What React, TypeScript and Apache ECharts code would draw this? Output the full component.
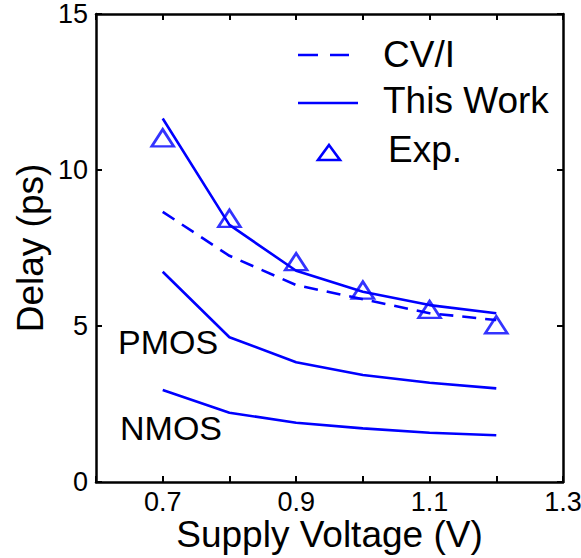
import React, { useEffect, useRef } from "react";
import * as echarts from "echarts";

const voltages = [0.7, 0.8, 0.9, 1.0, 1.1, 1.2];
const cvi = [8.66, 7.25, 6.31, 5.86, 5.41, 5.19];
const thisWork = [11.65, 8.24, 6.77, 6.1, 5.67, 5.41];
const expData = [11.03, 8.45, 7.06, 6.15, 5.53, 5.04];
const pmos = [6.74, 4.64, 3.84, 3.43, 3.18, 3.0];
const nmos = [2.95, 2.22, 1.9, 1.72, 1.58, 1.5];
const xLabels = ["0.7", "0.9", "1.1", "1.3"];

const BLUE = "#0000ff";
const FONT = "'Liberation Sans', Arial, Helvetica, sans-serif";

const pairs = (ys: number[]) => voltages.map((v, i) => [v, ys[i]]);

export default function App() {
  const ref = useRef<HTMLDivElement>(null);
  useEffect(() => {
    document.body.style.margin = "0";
    if (!ref.current) return;
    const chart = echarts.init(ref.current, undefined, { renderer: "svg" });
    const solid = (name: string, ys: number[]) => ({
      name,
      type: "line",
      data: pairs(ys),
      symbol: "none",
      lineStyle: { color: BLUE, width: 2.6 },
      z: 3,
    });
    const axisCommon = {
      axisLine: { show: true, onZero: false, lineStyle: { color: "#000", width: 2.5 } },
      axisTick: { show: true, inside: true, length: 6, lineStyle: { color: "#000", width: 2 } },
      splitLine: { show: false },
    };
    chart.setOption({
      animation: false,
      backgroundColor: "#fff",
      grid: { left: 96, right: 18, top: 14, bottom: 76, containLabel: false, outerBoundsMode: "none" },
      xAxis: [
        {
          type: "value",
          min: 0.6,
          max: 1.3,
          interval: 0.1,
          position: "bottom",
          ...axisCommon,
          axisLabel: {
            color: "#000",
            fontSize: 27,
            lineHeight: 22,
            fontFamily: FONT,
            margin: 9,
            showMinLabel: true,
            showMaxLabel: true,
            formatter: (v: number) => {
              const s = (Math.round(v * 10) / 10).toFixed(1);
              return xLabels.includes(s) ? s : "";
            },
          },
          name: "Supply Voltage (V)",
          nameLocation: "middle",
          nameMoveOverlap: false,
          nameGap: 35,
          nameTextStyle: { color: "#000", fontSize: 37, lineHeight: 34, fontFamily: FONT },
        },
        {
          type: "value",
          min: 0.6,
          max: 1.3,
          interval: 0.1,
          position: "top",
          ...axisCommon,
          axisLabel: { show: false },
        },
      ],
      yAxis: [
        {
          type: "value",
          min: 0,
          max: 15,
          interval: 5,
          position: "left",
          ...axisCommon,
          axisLabel: { color: "#000", fontSize: 27, fontFamily: FONT, margin: 8 },
          name: "Delay (ps)",
          nameLocation: "middle",
          nameMoveOverlap: false,
          nameGap: 47,
          nameTextStyle: { color: "#000", fontSize: 37, fontFamily: FONT },
        },
        {
          type: "value",
          min: 0,
          max: 15,
          interval: 5,
          position: "right",
          ...axisCommon,
          axisLabel: { show: false },
        },
      ],
      series: [
        {
          name: "CV/I",
          type: "line",
          data: pairs(cvi),
          symbol: "none",
          lineStyle: { color: BLUE, width: 2.6, type: [14, 9] },
          z: 3,
        },
        solid("This Work", thisWork),
        solid("PMOS", pmos),
        solid("NMOS", nmos),
        {
          name: "Exp.",
          type: "scatter",
          data: pairs(expData),
          symbol: "triangle",
          symbolSize: [22, 17],
          itemStyle: { color: "rgba(255,255,255,0)", borderColor: BLUE, borderWidth: 2.6 },
          z: 4,
        },
      ],
      graphic: [
        {
          type: "line",
          shape: { x1: 298, y1: 55, x2: 349, y2: 55 },
          style: { stroke: BLUE, lineWidth: 2.6, lineDash: [20, 12] },
        },
        {
          type: "line",
          shape: { x1: 298, y1: 103, x2: 358, y2: 103 },
          style: { stroke: BLUE, lineWidth: 2.6 },
        },
        {
          type: "polygon",
          shape: { points: [[329, 145], [340, 160], [318, 160]] },
          style: { stroke: BLUE, lineWidth: 2.6, fill: "none" },
        },
        {
          type: "text",
          x: 383,
          y: 54,
          style: { text: "CV/I", fill: "#000", font: `37px ${FONT}`, textVerticalAlign: "middle" },
        },
        {
          type: "text",
          x: 383,
          y: 100,
          style: { text: "This Work", fill: "#000", font: `37px ${FONT}`, textVerticalAlign: "middle" },
        },
        {
          type: "text",
          x: 388,
          y: 149,
          style: { text: "Exp.", fill: "#000", font: `37px ${FONT}`, textVerticalAlign: "middle" },
        },
        {
          type: "text",
          x: 118,
          y: 342,
          style: { text: "PMOS", fill: "#000", font: `34px ${FONT}`, textVerticalAlign: "middle" },
        },
        {
          type: "text",
          x: 120,
          y: 428,
          style: { text: "NMOS", fill: "#000", font: `34px ${FONT}`, textVerticalAlign: "middle" },
        },
      ],
    });
    return () => chart.dispose();
  }, []);
  return <div ref={ref} style={{ width: 581, height: 558 }} />;
}
